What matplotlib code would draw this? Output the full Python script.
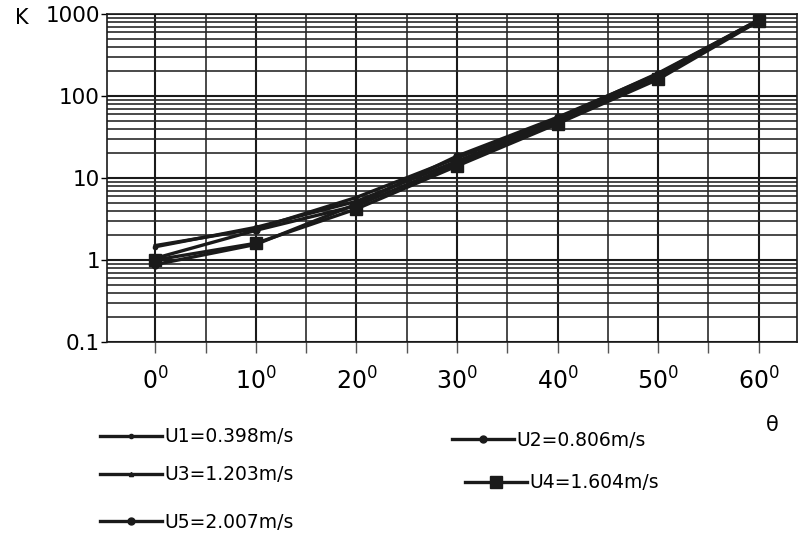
import matplotlib
matplotlib.use("Agg")
import matplotlib.pyplot as plt
from matplotlib.ticker import FixedLocator, LogLocator, NullFormatter, FixedFormatter

plt.rcParams['font.family'] = ['DejaVu Sans']
plt.rcParams['mathtext.default'] = 'regular'

theta = [0, 10, 20, 30, 40, 50, 60]
U1 = [1.45, 2.5, 5.2, 16, 50, 180, 820]
U2 = [1.05, 2.3, 4.6, 15, 47, 175, 830]
U3 = [1.5, 2.4, 5.8, 17.5, 53, 190, 840]
U4 = [1.0, 1.6, 4.2, 14, 46, 160, 820]
U5 = [0.88, 1.55, 4.8, 18.5, 55, 185, 850]
labels = ["U1=0.398m/s", "U2=0.806m/s", "U3=1.203m/s", "U4=1.604m/s", "U5=2.007m/s"]
xtick_vals = [0, 10, 20, 30, 40, 50, 60]
ytick_vals = [0.1, 1, 10, 100, 1000]
ytick_labels = ["0.1", "1", "10", "100", "1000"]

W, H = 807, 542
fig = plt.figure(figsize=(W / 100, H / 100), dpi=100)
ax = fig.add_axes([107 / W, 1 - 342 / H, (797 - 107) / W, (342 - 14) / H])

ink = '#1a1a1a'
series = [U1, U2, U3, U4, U5]
styles = [dict(marker='o', ms=3), dict(marker='o', ms=5), dict(marker='^', ms=3),
          dict(marker='s', ms=9), dict(marker='o', ms=5)]
handles = []
for vals, st, lab in zip(series, styles, labels):
    h, = ax.plot(theta, vals, color=ink, lw=2.4, label=lab, **st)
    handles.append(h)

ax.set_yscale('log')
ax.set_ylim(0.1, 1000)
ax.set_xlim(-4.8, 63.8)

ax.xaxis.set_major_locator(FixedLocator(xtick_vals))
ax.xaxis.set_major_formatter(FixedFormatter([r'$%d^{0}$' % v for v in xtick_vals]))
ax.xaxis.set_minor_locator(FixedLocator([-5, 5, 15, 25, 35, 45, 55]))
ax.yaxis.set_major_locator(FixedLocator(ytick_vals))
ax.yaxis.set_major_formatter(FixedFormatter(ytick_labels))
ax.yaxis.set_minor_locator(LogLocator(base=10, subs=range(2, 10)))
ax.yaxis.set_minor_formatter(NullFormatter())

ax.grid(True, which='major', axis='both', color=ink, lw=1.5)
ax.grid(True, which='minor', axis='both', color='#2a2a2a', lw=1.2)
ax.set_axisbelow(True)

ax.tick_params(axis='x', which='both', direction='out', length=8, width=1, color='#555555',
               labelsize=17, pad=10)
ax.tick_params(axis='y', which='major', direction='out', length=4, width=1, labelsize=15.5, pad=1)
ax.tick_params(axis='y', which='minor', length=0)
for s in ax.spines.values():
    s.set_color(ink)
    s.set_linewidth(1.2)

fig.text(15 / W, 1 - 18 / H, "K", fontsize=15, ha='left', va='center')
fig.text(772 / W, 1 - 425 / H, "θ", fontsize=15, ha='center', va='center')

pos = [(100, 437), (452, 440), (100, 475), (465, 483), (100, 522)]
fs = 13.5
for h, lab, (px, py) in zip(handles, labels, pos):
    fig.legend([h], [lab], loc='center left', bbox_to_anchor=(px / W, 1 - py / H),
               frameon=False, fontsize=fs, borderpad=0, borderaxespad=0,
               handlelength=3.3, handletextpad=0.15)

fig.savefig("out.png", dpi=100)
